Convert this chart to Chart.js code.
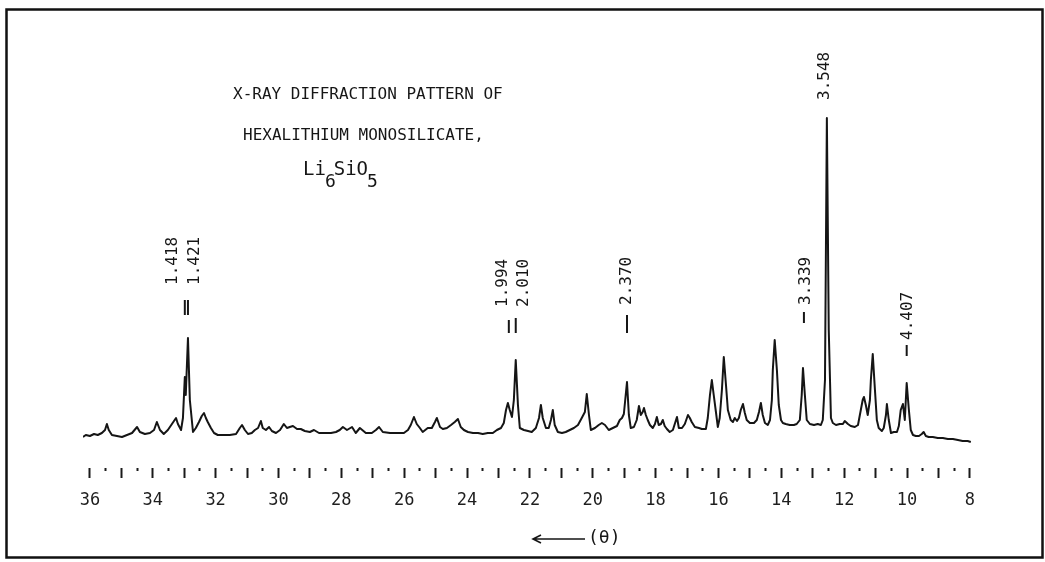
<!DOCTYPE html>
<html>
<head>
<meta charset="utf-8">
<script src="https://cdn.jsdelivr.net/npm/chart.js@4.4.1/dist/chart.umd.min.js"></script>
<style>
  html, body { margin: 0; padding: 0; background: #ffffff; }
  #wrap { width: 1045px; height: 562px; position: relative; }
</style>
</head>
<body>
<div id="wrap"><canvas id="c"></canvas></div>
<script>
// ---- data (θ in degrees, intensity in arbitrary units) ----
const thetaValues = [
  36.22,36.13,36.00,35.87,35.75,35.62,35.52,35.46,35.40,35.30,
  35.14,34.98,34.82,34.66,34.50,34.41,34.25,34.09,33.96,33.87,
  33.77,33.65,33.52,33.39,33.26,33.20,33.10,33.04,32.98,32.95,
  32.88,32.82,32.72,32.63,32.53,32.44,32.37,32.31,32.25,32.15,
  32.05,31.93,31.74,31.55,31.35,31.23,31.16,31.07,30.97,30.85,
  30.75,30.65,30.56,30.50,30.40,30.30,30.21,30.08,29.95,29.83,
  29.73,29.64,29.54,29.41,29.29,29.16,29.00,28.87,28.71,28.52,
  28.33,28.17,28.05,27.95,27.82,27.66,27.54,27.41,27.22,27.03,
  26.90,26.80,26.68,26.45,26.23,26.01,25.88,25.79,25.69,25.60,
  25.50,25.41,25.25,25.12,25.02,24.96,24.86,24.77,24.64,24.51,
  24.39,24.29,24.20,24.10,23.97,23.81,23.65,23.50,23.34,23.18,
  23.05,22.92,22.83,22.76,22.70,22.64,22.57,22.51,22.45,22.38,
  22.32,22.19,22.06,21.94,21.81,21.71,21.65,21.59,21.49,21.40,
  21.33,21.27,21.21,21.11,20.98,20.86,20.73,20.60,20.47,20.35,
  20.25,20.19,20.12,20.06,19.93,19.81,19.71,19.61,19.49,19.36,
  19.23,19.14,19.07,19.01,18.91,18.85,18.79,18.69,18.60,18.53,
  18.47,18.41,18.37,18.31,18.25,18.18,18.09,18.02,17.96,17.90,
  17.83,17.77,17.71,17.64,17.55,17.45,17.39,17.32,17.26,17.16,
  17.07,16.97,16.91,16.85,16.75,16.62,16.53,16.40,16.34,16.27,
  16.21,16.15,16.08,16.02,15.96,15.89,15.83,15.76,15.70,15.61,
  15.54,15.48,15.41,15.35,15.29,15.22,15.16,15.10,15.00,14.87,
  14.78,14.71,14.65,14.59,14.52,14.43,14.36,14.30,14.27,14.21,
  14.14,14.08,14.01,13.95,13.86,13.73,13.60,13.51,13.41,13.35,
  13.31,13.25,13.19,13.09,12.96,12.84,12.74,12.68,12.61,12.55,
  12.49,12.42,12.36,12.26,12.14,12.04,11.98,11.88,11.79,11.66,
  11.56,11.47,11.41,11.37,11.31,11.25,11.18,11.15,11.09,11.02,
  10.96,10.90,10.80,10.74,10.67,10.64,10.58,10.51,10.42,10.32,
  10.26,10.20,10.13,10.07,10.01,9.94,9.88,9.81,9.72,9.62,
  9.53,9.47,9.40,9.31,9.18,9.02,8.86,8.70,8.54,8.38,
  8.23,8.07,7.97
];
const intensityValues = [
  0,2,1,3,2,4,7,13,7,2,
  1,0,2,4,10,5,3,4,7,15,
  7,3,7,13,19,13,7,19,60,42,
  99,37,5,9,15,21,24,19,15,9,
  4,2,2,2,3,9,12,7,3,4,
  7,9,16,9,7,10,6,4,7,13,
  9,10,11,8,8,6,5,7,4,4,
  4,5,7,10,7,10,4,9,4,4,
  7,10,5,4,4,4,7,12,20,13,
  9,5,9,9,15,19,10,8,9,12,
  15,18,10,7,5,4,4,3,4,4,
  7,9,14,27,34,27,20,37,77,32,
  9,7,6,5,9,19,32,19,9,9,
  17,27,12,5,4,5,7,9,12,19,
  25,43,22,7,9,12,14,12,7,9,
  11,17,19,23,55,22,9,10,17,31,
  22,25,29,22,17,12,9,13,20,12,
  13,17,11,8,5,7,13,20,9,9,
  13,22,19,15,10,9,8,8,19,42,
  57,42,25,10,19,47,80,52,27,17,
  15,19,16,19,27,33,24,17,14,14,
  17,25,34,22,14,12,17,37,67,97,
  67,32,17,14,13,12,12,13,17,42,
  69,42,17,13,12,13,12,17,57,319,
  107,19,14,12,13,13,16,13,11,10,
  12,27,37,40,32,22,37,57,83,47,
  17,9,6,9,22,33,17,4,5,5,
  11,27,33,17,54,27,7,2,1,1,
  3,5,1,0,0,-1,-1,-2,-2,-3,
  -4,-4,-5
];
const tickLabels = [36, 34, 32, 30, 28, 26, 24, 22, 20, 18, 16, 14, 12, 10, 8];
const peakLabels = ['1.418', '1.421', '1.994', '2.010', '2.370', '3.339', '3.548', '4.407'];
const peakTheta  = [32.98, 32.88, 22.67, 22.45, 18.91, 13.28, 12.58, 10.01];
const titleLines = ['X-RAY DIFFRACTION PATTERN OF', 'HEXALITHIUM MONOSILICATE,'];
const formulaParts = ['Li', '6', 'SiO', '5'];
const axisCaption = '(θ)';

// ---- layout / style (not data) ----
const FONT = '"DejaVu Sans Mono", "Liberation Mono", monospace';
const INK = '#161616';
// label placement in y-scale units, dx in px
const labelLayout = [
  { dx: -12, base: 152, markTop: 137, markBottom: 122 },
  { dx: 7,   base: 152, markTop: 137, markBottom: 122 },
  { dx: -6,  base: 130, markTop: 117, markBottom: 104 },
  { dx: 8,   base: 130, markTop: 119, markBottom: 104 },
  { dx: 0,   base: 132, markTop: 122, markBottom: 104 },
  { dx: 2,   base: 132, markTop: 125, markBottom: 114 },
  { dx: -1,  base: 337, markTop: null, markBottom: null },
  { dx: 1,   base: 97,  markTop: 92,  markBottom: 81 }
];

const points = thetaValues.map((t, i) => ({ x: t, y: intensityValues[i] }));

const decorPlugin = {
  id: 'decor',
  afterDraw(chart) {
    const ctx = chart.ctx;
    const xs = chart.scales.x, ys = chart.scales.y;
    ctx.save();
    // frame
    ctx.strokeStyle = '#111';
    ctx.lineWidth = 2.5;
    ctx.strokeRect(6.5, 9.5, 1036, 548);

    // title block
    ctx.fillStyle = INK;
    ctx.textAlign = 'left';
    ctx.textBaseline = 'alphabetic';
    ctx.font = '16px ' + FONT;
    ctx.fillText(titleLines[0], 233, 99);
    ctx.fillText(titleLines[1], 243, 140);
    let fx = 303;
    formulaParts.forEach((t, i) => {
      const sub = i % 2 === 1;
      ctx.font = (sub ? '18px ' : '19px ') + FONT;
      ctx.fillText(t, fx, sub ? 187 : 175);
      fx += ctx.measureText(t).width - (sub ? 2 : 1);
    });

    // peak labels and marks
    ctx.strokeStyle = INK;
    ctx.lineWidth = 2;
    peakLabels.forEach((txt, i) => {
      const L = labelLayout[i];
      const px = xs.getPixelForValue(peakTheta[i]);
      if (L.markTop !== null) {
        ctx.beginPath();
        ctx.moveTo(px, ys.getPixelForValue(L.markTop));
        ctx.lineTo(px, ys.getPixelForValue(L.markBottom));
        ctx.stroke();
      }
      ctx.save();
      ctx.translate(px + L.dx, ys.getPixelForValue(L.base));
      ctx.rotate(-Math.PI / 2);
      ctx.font = '16px ' + FONT;
      ctx.textAlign = 'left';
      ctx.textBaseline = 'middle';
      ctx.fillText(txt, 0, 0);
      ctx.restore();
    });

    // direction arrow + caption
    ctx.lineWidth = 1.6;
    ctx.beginPath();
    ctx.moveTo(585, 539);
    ctx.lineTo(533, 539);
    ctx.moveTo(541, 535);
    ctx.lineTo(533, 539);
    ctx.lineTo(541, 543);
    ctx.stroke();
    ctx.font = '18px ' + FONT;
    ctx.textBaseline = 'middle';
    ctx.fillText(axisCaption, 588, 538);
    ctx.restore();
  }
};

new Chart(document.getElementById('c'), {
  type: 'line',
  data: {
    datasets: [{
      data: points,
      borderColor: '#151515',
      borderWidth: 2,
      borderJoinStyle: 'round',
      pointRadius: 0,
      tension: 0,
      fill: false
    }]
  },
  options: {
    responsive: true,
    maintainAspectRatio: false,
    animation: false,
    devicePixelRatio: 1,
    layout: { padding: { left: 83, right: 72, top: 100, bottom: 34 } },
    plugins: { legend: { display: false }, tooltip: { enabled: false }, title: { display: false } },
    scales: {
      x: {
        type: 'linear',
        reverse: true,
        min: 7.9,
        max: 36.22,
        afterBuildTicks(scale) {
          const t = [];
          for (let v = 8; v <= 36; v += 0.5) t.push({ value: v });
          scale.ticks = t;
        },
        afterFit(scale) { scale.height = 60; },
        border: { display: false },
        grid: {
          drawOnChartArea: false,
          drawTicks: true,
          tickLength: 10,
          tickWidth: 2,
          tickColor: '#1a1a1a',
          tickBorderDash: (c) => (c.tick && Number.isInteger(c.tick.value)) ? [] : [3, 40]
        },
        ticks: {
          autoSkip: false,
          maxRotation: 0,
          minRotation: 0,
          padding: 12,
          color: '#1e1e1e',
          font: { family: FONT, size: 17 },
          callback: (v) => tickLabels.includes(v) ? String(v) : ''
        }
      },
      y: {
        display: false,
        min: -31,
        max: 337
      }
    }
  },
  plugins: [decorPlugin]
});
</script>
</body>
</html>
